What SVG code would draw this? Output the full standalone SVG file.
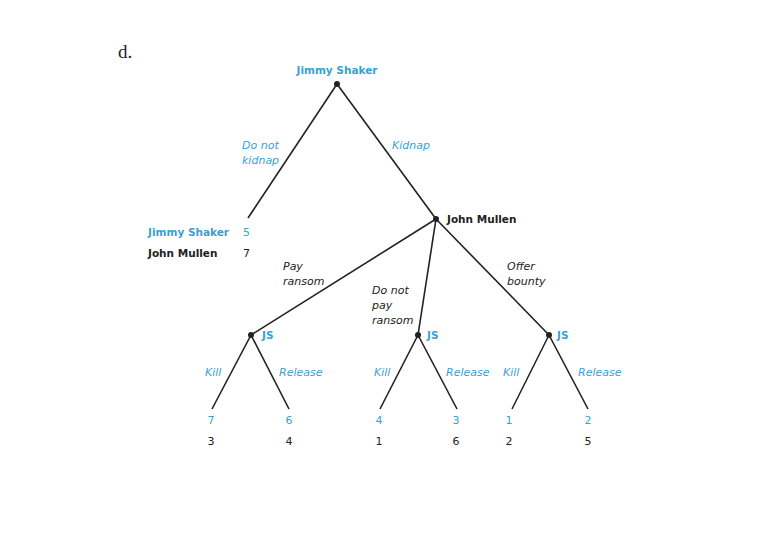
<svg xmlns="http://www.w3.org/2000/svg" width="766" height="538" viewBox="0 0 766 538">
<style>
text{font-family:"DejaVu Sans","Noto Sans",sans-serif;font-size:11px}
.b{fill:#3a9fd6}
.k{fill:#222}
.bold{font-weight:bold;font-size:10.5px}
.i{font-style:italic}
.m{text-anchor:middle}
line{stroke:#222;stroke-width:1.6}
circle{fill:#222}
</style>
<rect width="766" height="538" fill="#fff"/>
<text x="118" y="58" style="font-family:'Liberation Serif',serif;font-size:19px" class="k">d.</text>
<g id="connectors">
<line x1="337" y1="84" x2="248" y2="218"/>
<line x1="337" y1="84" x2="436" y2="219"/>
<line x1="436" y1="219" x2="251" y2="335"/>
<line x1="436" y1="219" x2="418" y2="335"/>
<line x1="436" y1="219" x2="549" y2="335"/>
<line x1="251" y1="335" x2="212" y2="409"/>
<line x1="251" y1="335" x2="289" y2="409"/>
<line x1="418" y1="335" x2="380" y2="409"/>
<line x1="418" y1="335" x2="457" y2="409"/>
<line x1="549" y1="335" x2="512" y2="409"/>
<line x1="549" y1="335" x2="588" y2="409"/>
<text class="b i" x="242" y="149">Do not</text>
<text class="b i" x="242" y="164">kidnap</text>
<text class="b i" x="392" y="149">Kidnap</text>
<text class="k i" x="283" y="270">Pay</text>
<text class="k i" x="283" y="285">ransom</text>
<text class="k i" x="372" y="294">Do not</text>
<text class="k i" x="372" y="309">pay</text>
<text class="k i" x="372" y="324">ransom</text>
<text class="k i" x="507" y="270">Offer</text>
<text class="k i" x="507" y="285">bounty</text>
<text class="b i" x="205" y="376">Kill</text>
<text class="b i" x="279" y="376">Release</text>
<text class="b i" x="374" y="376">Kill</text>
<text class="b i" x="446" y="376">Release</text>
<text class="b i" x="503" y="376">Kill</text>
<text class="b i" x="578" y="376">Release</text>
</g>
<g id="root">
<circle cx="337" cy="84" r="3"/>
<text class="b bold m" x="337" y="74">Jimmy Shaker</text>
</g>
<g id="no-kidnap-payoff">
<text class="b bold" x="148" y="236">Jimmy Shaker</text>
<text class="b" x="243" y="236">5</text>
<text class="k bold" x="148" y="257">John Mullen</text>
<text class="k" x="243" y="257">7</text>
</g>
<g id="john-mullen">
<circle cx="436" cy="219" r="3"/>
<text class="k bold" x="447" y="223">John Mullen</text>
</g>
<g id="js-pay">
<circle cx="251" cy="335" r="3"/>
<text class="b bold" x="262" y="339">JS</text>
</g>
<g id="js-nopay">
<circle cx="418" cy="335" r="3"/>
<text class="b bold" x="427" y="339">JS</text>
</g>
<g id="js-bounty">
<circle cx="549" cy="335" r="3"/>
<text class="b bold" x="557" y="339">JS</text>
</g>
<g id="leaf1"><text class="b m" x="211" y="424">7</text><text class="k m" x="211" y="445">3</text></g>
<g id="leaf2"><text class="b m" x="289" y="424">6</text><text class="k m" x="289" y="445">4</text></g>
<g id="leaf3"><text class="b m" x="379" y="424">4</text><text class="k m" x="379" y="445">1</text></g>
<g id="leaf4"><text class="b m" x="456" y="424">3</text><text class="k m" x="456" y="445">6</text></g>
<g id="leaf5"><text class="b m" x="509" y="424">1</text><text class="k m" x="509" y="445">2</text></g>
<g id="leaf6"><text class="b m" x="588" y="424">2</text><text class="k m" x="588" y="445">5</text></g>
</svg>
